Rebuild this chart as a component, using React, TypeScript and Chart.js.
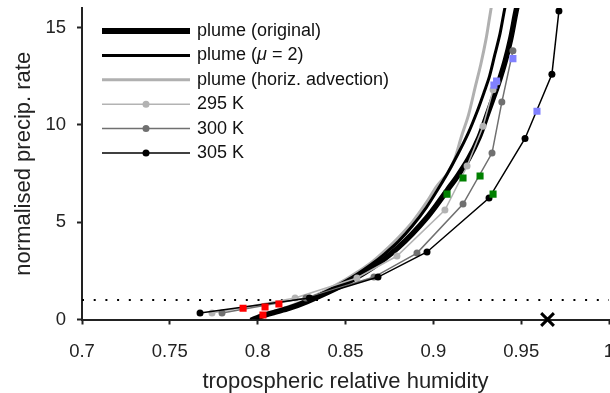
import React, { useEffect, useRef } from "react";
import { Chart, registerables } from "chart.js";

Chart.register(...registerables);

// ---- data ----
const plumeOrigX = [0.796, 0.803, 0.81, 0.818, 0.828, 0.84, 0.85, 0.857, 0.865, 0.872, 0.88, 0.888, 0.896, 0.902, 0.908, 0.914, 0.92, 0.926, 0.931, 0.935, 0.938, 0.941, 0.944, 0.947, 0.949];
const plumeOrigY = [-0.05, 0.2, 0.38, 0.58, 0.92, 1.4, 1.85, 2.2, 2.65, 3.1, 3.7, 4.4, 5.2, 5.9, 6.65, 7.4, 8.25, 9.35, 10.6, 11.6, 12.4, 13.3, 14.4, 15.8, 16.6];

const plumeMuX = [0.797, 0.803, 0.81, 0.818, 0.828, 0.84, 0.85, 0.857, 0.865, 0.872, 0.88, 0.888, 0.896, 0.902, 0.908, 0.914, 0.92, 0.925, 0.929, 0.932, 0.935, 0.938, 0.9405, 0.942];
const plumeMuY = [0, 0.22, 0.4, 0.62, 0.97, 1.48, 1.97, 2.35, 2.85, 3.35, 4.0, 4.8, 5.75, 6.6, 7.5, 8.5, 9.6, 10.7, 11.7, 12.5, 13.6, 14.7, 15.9, 16.5];

const plumeAdvX = [0.797, 0.803, 0.81, 0.818, 0.828, 0.84, 0.85, 0.857, 0.865, 0.872, 0.88, 0.888, 0.896, 0.902, 0.908, 0.912, 0.916, 0.92, 0.924, 0.927, 0.93, 0.932, 0.934];
const plumeAdvY = [0, 0.24, 0.44, 0.67, 1.03, 1.55, 2.05, 2.45, 2.95, 3.5, 4.2, 5.0, 6.0, 6.85, 7.5, 8.2, 9.4, 10.5, 12.0, 13.1, 14.4, 15.5, 16.6];

const t295X = [0.774, 0.8213, 0.8565, 0.8793, 0.9066, 0.9192, 0.9283, 0.934, 0.9362];
const t295Y = [0.33, 1.1, 2.13, 3.26, 5.62, 7.88, 9.93, 11.8, 12.2];

const t300X = [0.7797, 0.8275, 0.8662, 0.8907, 0.9169, 0.9334, 0.939, 0.9453];
const t300Y = [0.33, 1.1, 2.18, 3.41, 5.93, 8.55, 11.17, 13.8];

const t305X = [0.7672, 0.8295, 0.8685, 0.8964, 0.9317, 0.9522, 0.9675, 0.9715];
const t305Y = [0.33, 1.1, 2.18, 3.47, 6.24, 9.3, 12.6, 15.85];

const redX = [0.7917, 0.8042, 0.8121, 0.803];
const redY = [0.58, 0.64, 0.8, 0.23];
const greenX = [0.9078, 0.9169, 0.9266, 0.934];
const greenY = [6.44, 7.27, 7.37, 6.44];
const blueX = [0.9345, 0.936, 0.9453, 0.959];
const blueY = [12.04, 12.25, 13.4, 10.7];

const crossX = [0.965];
const crossY = [0];

const refLineX = [0.7, 1.0];
const refLineY = [1, 1];

const xTickValues = [0.7, 0.75, 0.8, 0.85, 0.9, 0.95, 1];
const yTickValues = [0, 5, 10, 15];

const legendLabels = [
  [{ t: "plume (original)", i: false }],
  [{ t: "plume (", i: false }, { t: "μ", i: true }, { t: " = 2)", i: false }],
  [{ t: "plume (horiz. advection)", i: false }],
  [{ t: "295 K", i: false }],
  [{ t: "300 K", i: false }],
  [{ t: "305 K", i: false }],
];

const C_LIGHT = "#b3b3b3";
const C_DARK = "#707070";
const C_BLACK = "#000000";
const FONT = '"Liberation Sans", Arial, Helvetica, sans-serif';

const legendStyles = [
  { color: C_BLACK, width: 6, marker: false },
  { color: C_BLACK, width: 3, marker: false },
  { color: "#b0b0b0", width: 3, marker: false },
  { color: C_LIGHT, width: 1.5, marker: true },
  { color: C_DARK, width: 1.5, marker: true },
  { color: C_BLACK, width: 1.5, marker: true },
];

function pts(xs: number[], ys: number[]) {
  return xs.map((x, i) => ({ x, y: ys[i] }));
}

const legendPlugin = {
  id: "customLegend",
  afterDraw(chart: any) {
    const ctx = chart.ctx as CanvasRenderingContext2D;
    ctx.save();
    legendLabels.forEach((segs, i) => {
      const st = legendStyles[i];
      const y = 31 + i * 24.4;
      ctx.beginPath();
      ctx.strokeStyle = st.color;
      ctx.lineWidth = st.width;
      ctx.lineCap = "butt";
      ctx.moveTo(102, y);
      ctx.lineTo(190, y);
      ctx.stroke();
      if (st.marker) {
        ctx.beginPath();
        ctx.fillStyle = st.color;
        ctx.arc(146, y, 3.5, 0, Math.PI * 2);
        ctx.fill();
      }
      let x = 197;
      ctx.textBaseline = "middle";
      ctx.textAlign = "left";
      ctx.fillStyle = "#111";
      segs.forEach((s) => {
        ctx.font = (s.i ? "italic " : "") + "18px " + FONT;
        ctx.fillText(s.t, x, y);
        x += ctx.measureText(s.t).width;
      });
    });
    ctx.restore();
  },
};

export default function App() {
  const ref = useRef<HTMLCanvasElement | null>(null);
  useEffect(() => {
    if (!ref.current) return;
    const lineDs = (label: string, xs: number[], ys: number[], color: string, width: number, order: number) => ({
      label,
      data: pts(xs, ys),
      showLine: true,
      borderColor: color,
      borderWidth: width,
      pointRadius: 0,
      fill: false,
      tension: 0.3,
      order,
    });
    const seriesDs = (label: string, xs: number[], ys: number[], color: string, order: number) => ({
      label,
      data: pts(xs, ys),
      showLine: true,
      borderColor: color,
      borderWidth: 1.5,
      pointRadius: 3.5,
      pointBackgroundColor: color,
      pointBorderColor: color,
      pointBorderWidth: 0,
      fill: false,
      tension: 0,
      order,
    });
    const squareDs = (label: string, xs: number[], ys: number[], color: string, order: number) => ({
      label,
      data: pts(xs, ys),
      showLine: false,
      pointStyle: "rect",
      pointRadius: 5,
      pointBackgroundColor: color,
      pointBorderColor: color,
      pointBorderWidth: 0,
      order,
    });
    const chart = new Chart(ref.current, {
      type: "scatter",
      data: {
        datasets: [
          {
            label: "ref",
            data: pts(refLineX, refLineY),
            showLine: true,
            borderColor: "#000",
            borderWidth: 2,
            borderDash: [2, 9.7],
            pointRadius: 0,
            order: 12,
          },
          lineDs("plume (horiz. advection)", plumeAdvX, plumeAdvY, "#b0b0b0", 3, 11),
          lineDs("plume (mu = 2)", plumeMuX, plumeMuY, C_BLACK, 3, 10),
          lineDs("plume (original)", plumeOrigX, plumeOrigY, C_BLACK, 5.5, 9),
          seriesDs("295 K", t295X, t295Y, C_LIGHT, 8),
          seriesDs("300 K", t300X, t300Y, C_DARK, 7),
          seriesDs("305 K", t305X, t305Y, C_BLACK, 6),
          squareDs("red", redX, redY, "#ff0000", 5),
          squareDs("green", greenX, greenY, "#008000", 4),
          squareDs("blue", blueX, blueY, "#8080ff", 3),
          {
            label: "x",
            data: pts(crossX, crossY),
            showLine: false,
            pointStyle: "crossRot",
            pointRadius: 9,
            pointBorderWidth: 3,
            pointBorderColor: "#000",
            pointBackgroundColor: "#000",
            clip: false,
            order: 1,
          } as any,
        ] as any,
      },
      options: {
        animation: false,
        responsive: true,
        maintainAspectRatio: false,
        events: [],
        layout: { autoPadding: false, padding: { top: 8, right: 1, left: 0, bottom: 0 } },
        plugins: { legend: { display: false }, tooltip: { enabled: false } },
        scales: {
          x: {
            type: "linear",
            min: 0.7,
            max: 1.0,
            afterBuildTicks: (scale: any) => {
              scale.ticks = xTickValues.map((v) => ({ value: v }));
            },
            afterFit: (scale: any) => {
              scale.height = 73.5;
              scale.paddingLeft = 0;
              scale.paddingRight = 0;
            },
            ticks: {
              color: "#222",
              font: { family: FONT, size: 18.5 },
              padding: 16,
              maxRotation: 0,
              autoSkip: false,
              callback: (v: any) => String(Number(Number(v).toFixed(2))),
            },
            grid: {
              drawOnChartArea: false,
              drawTicks: true,
              tickLength: 5,
              tickColor: "#222",
              tickWidth: 2,
            },
            border: { display: true, color: "#222", width: 2 },
            title: {
              display: true,
              text: "tropospheric relative humidity",
              color: "#222",
              font: { family: FONT, size: 22, lineHeight: 1 },
              padding: { top: 0, bottom: 0.5 },
            },
          },
          y: {
            type: "linear",
            min: 0,
            max: 16,
            afterBuildTicks: (scale: any) => {
              scale.ticks = yTickValues.map((v) => ({ value: v }));
            },
            afterFit: (scale: any) => {
              scale.width = 82;
              scale.paddingTop = 0;
              scale.paddingBottom = 0;
            },
            ticks: {
              color: "#222",
              font: { family: FONT, size: 18.5 },
              padding: 11,
              callback: (v: any) => String(v),
            },
            grid: {
              drawOnChartArea: false,
              drawTicks: true,
              tickLength: 5,
              tickColor: "#222",
              tickWidth: 2,
            },
            border: { display: true, color: "#222", width: 2 },
            title: {
              display: true,
              text: "normalised precip. rate",
              color: "#222",
              font: { family: FONT, size: 22, lineHeight: 1.2 },
              padding: { top: 11, bottom: 0 },
            },
          },
        },
      } as any,
      plugins: [legendPlugin],
    });
    return () => chart.destroy();
  }, []);
  return (
    <div style={{ position: "absolute", left: 0, top: 0, width: 610, height: 393 }}>
      <canvas ref={ref} />
    </div>
  );
}
